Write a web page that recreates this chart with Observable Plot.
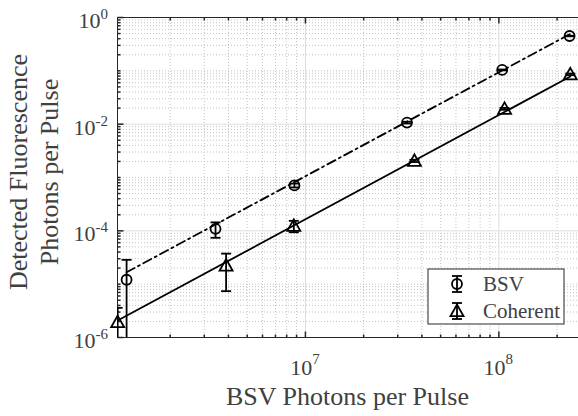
<!DOCTYPE html>
<html><head><meta charset="utf-8">
<script src="https://cdn.jsdelivr.net/npm/d3@7"></script>
<script src="https://cdn.jsdelivr.net/npm/@observablehq/plot@0.6"></script>
<style>body{margin:0;background:#fff} #chart{position:relative;width:578px;height:416px;overflow:hidden}</style>
</head><body><div id="chart"></div>
<script>
// ---- data ----
const seriesNames = ["BSV", "Coherent"];
const bsvX   = [1.19e6, 3.43e6, 8.77e6, 3.35e7, 1.04e8, 2.32e8];
const bsvY   = [1.21e-5, 1.09e-4, 7.1e-4, 1.07e-2, 0.104, 0.45];
const bsvErr = [1.65e-5, 0.35e-4, 0.6e-4, 0.4e-3, 0.002, 0.006];
const cohX   = [1.07e6, 3.89e6, 8.71e6, 3.66e7, 1.07e8, 2.34e8];
const cohY   = [1.94e-6, 2.24e-5, 1.24e-4, 2.05e-3, 1.94e-2, 0.086];
const cohErr = [1.66e-6, 1.5e-5, 0.3e-4, 0.1e-3, 0.0008, 0.003];
// fitted power-law lines (end points)
const bsvFitX = [1.19e6, 2.32e8];
const bsvFitY = [1.67e-5, 0.485];
const cohFitX = [1.07e6, 2.34e8];
const cohFitY = [2.08e-6, 0.0782];
// axes
const xDomain = [1.068e6, 2.58e8];
const yDomain = [1e-6, 1];
const xTicks = [1e7, 1e8];
const xTickExp = ["7", "8"];
const yTicks = [1, 1e-2, 1e-4, 1e-6];
const yTickExp = ["0", "-2", "-4", "-6"];
const xLabel = "BSV Photons per Pulse";
const yLabel = ["Detected Fluorescence", "Photons per Pulse"];

// minor tick positions
const xMinor = [];
for (let k = 6; k <= 8; k++) for (let m = 2; m <= 9; m++) {
  const v = m * Math.pow(10, k);
  if (v > xDomain[0] && v < xDomain[1]) xMinor.push(v);
}
const yMinor = [];
for (let k = -6; k < 0; k++) for (let m = 1; m <= 9; m++) {
  if (m === 1 && k % 2 === 0) continue;
  yMinor.push(m * Math.pow(10, k));
}

const bsv = bsvX.map((x, i) => ({x, y: bsvY[i], lo: Math.max(bsvY[i] - bsvErr[i], 1e-9), hi: bsvY[i] + bsvErr[i]}));
const coh = cohX.map((x, i) => ({x, y: cohY[i], lo: Math.max(cohY[i] - cohErr[i], 1e-9), hi: cohY[i] + cohErr[i]}));
const bsvFit = bsvFitX.map((x, i) => ({x, y: bsvFitY[i]}));
const cohFit = cohFitX.map((x, i) => ({x, y: cohFitY[i]}));

// custom symbols
const rad = s => Math.sqrt(s / Math.PI);
const capSym = {draw(c, s) { const r = rad(s); c.moveTo(-r, 0); c.lineTo(r, 0); }};
const triSym = {draw(c, s) { const r = rad(s); c.moveTo(0, -r); c.lineTo(r, r * 0.78); c.lineTo(-r, r * 0.78); c.closePath(); }};
const tickUp = {draw(c, s) { const r = rad(s); c.moveTo(0, 0); c.lineTo(0, -r); }};
const tickDown = {draw(c, s) { const r = rad(s); c.moveTo(0, 0); c.lineTo(0, r); }};
const tickRight = {draw(c, s) { const r = rad(s); c.moveTo(0, 0); c.lineTo(r, 0); }};

const AX = "#262626";
const LW = 1.8;

const plot = Plot.plot({
  width: 578, height: 416,
  marginLeft: 117, marginRight: 0, marginTop: 17, marginBottom: 79,
  x: {type: "log", domain: xDomain, axis: null},
  y: {type: "log", domain: yDomain, axis: null},
  marks: [
    // grid
    Plot.ruleX(xMinor, {stroke: "#c4c4c4", strokeDasharray: "1,2", strokeWidth: 1}),
    Plot.ruleY(yMinor, {stroke: "#c4c4c4", strokeDasharray: "1,2", strokeWidth: 1}),
    Plot.ruleX(xTicks, {stroke: "#dedede", strokeWidth: 1}),
    Plot.ruleY(yTicks, {stroke: "#dedede", strokeWidth: 1}),
    // frame
    Plot.ruleY([yDomain[0], yDomain[1]], {stroke: AX, strokeWidth: 1}),
    Plot.ruleX([xDomain[0]], {stroke: AX, strokeWidth: 1}),
    // inward ticks
    Plot.dot(xTicks, {x: d => d, y: () => yDomain[0], symbol: tickUp, r: 6, stroke: AX, fill: "none"}),
    Plot.dot(xMinor, {x: d => d, y: () => yDomain[0], symbol: tickUp, r: 3, stroke: AX, fill: "none"}),
    Plot.dot(xTicks, {x: d => d, y: () => yDomain[1], symbol: tickDown, r: 6, stroke: AX, fill: "none"}),
    Plot.dot(xMinor, {x: d => d, y: () => yDomain[1], symbol: tickDown, r: 3, stroke: AX, fill: "none"}),
    Plot.dot(yTicks, {y: d => d, x: () => xDomain[0], symbol: tickRight, r: 6, stroke: AX, fill: "none"}),
    Plot.dot(yMinor, {y: d => d, x: () => xDomain[0], symbol: tickRight, r: 3, stroke: AX, fill: "none"}),
    // fit lines
    Plot.line(bsvFit, {x: "x", y: "y", stroke: "#000", strokeWidth: LW, strokeDasharray: "9,4,2,4", clip: true}),
    Plot.line(cohFit, {x: "x", y: "y", stroke: "#000", strokeWidth: LW, clip: true}),
    // error bars
    Plot.ruleX(bsv, {x: "x", y1: "lo", y2: "hi", stroke: "#000", strokeWidth: LW, clip: true}),
    Plot.ruleX(coh, {x: "x", y1: "lo", y2: "hi", stroke: "#000", strokeWidth: LW, clip: true}),
    Plot.dot(bsv, {x: "x", y: "hi", symbol: capSym, r: 5, stroke: "#000", strokeWidth: LW, fill: "none", clip: true}),
    Plot.dot(bsv, {x: "x", y: "lo", symbol: capSym, r: 5, stroke: "#000", strokeWidth: LW, fill: "none", clip: true}),
    Plot.dot(coh, {x: "x", y: "hi", symbol: capSym, r: 5, stroke: "#000", strokeWidth: LW, fill: "none", clip: true}),
    Plot.dot(coh, {x: "x", y: "lo", symbol: capSym, r: 5, stroke: "#000", strokeWidth: LW, fill: "none", clip: true}),
    // markers
    Plot.dot(bsv, {x: "x", y: "y", r: 5, stroke: "#000", strokeWidth: LW, fill: "none"}),
    Plot.dot(coh, {x: "x", y: "y", symbol: triSym, r: 6.5, stroke: "#000", strokeWidth: LW, fill: "none"})
  ]
});

const sx = plot.scale("x"), sy = plot.scale("y");
const svg = d3.select(plot);
const FONT = "'Liberation Serif', 'Times New Roman', serif";
const TXT = "#404040";
const g = svg.append("g").attr("font-family", FONT).attr("fill", TXT);

// x tick labels
xTicks.forEach((v, i) => {
  const t = g.append("text").attr("x", sx.apply(v)).attr("y", 375).attr("text-anchor", "middle").attr("font-size", 22);
  t.append("tspan").text("10");
  t.append("tspan").attr("font-size", 15).attr("dy", -11).text(xTickExp[i]);
});
// y tick labels
yTicks.forEach((v, i) => {
  const t = g.append("text").attr("x", 108).attr("y", sy.apply(v) + 11).attr("text-anchor", "end").attr("font-size", 22);
  t.append("tspan").text("10");
  t.append("tspan").attr("font-size", 15).attr("dy", -9).text(yTickExp[i]);
});
// axis labels
g.append("text").attr("x", 347.5).attr("y", 405).attr("text-anchor", "middle").attr("font-size", 26).text(xLabel);
yLabel.forEach((s, i) => {
  g.append("text").attr("transform", `translate(${27 + 31 * i},172) rotate(-90)`)
    .attr("text-anchor", "middle").attr("font-size", 26).text(s);
});

// legend
const lg = svg.append("g").attr("font-family", FONT);
lg.append("rect").attr("x", 428).attr("y", 269).attr("width", 136).attr("height", 55)
  .attr("fill", "#fff").attr("stroke", AX).attr("stroke-width", 1);
seriesNames.forEach((name, i) => {
  const cy = 284 + 27 * i, cx = 457;
  const ig = lg.append("g").attr("stroke", "#000").attr("stroke-width", LW).attr("fill", "none");
  ig.append("line").attr("x1", cx).attr("x2", cx).attr("y1", cy - 8).attr("y2", cy + 8);
  ig.append("line").attr("x1", cx - 5).attr("x2", cx + 5).attr("y1", cy - 8).attr("y2", cy - 8);
  ig.append("line").attr("x1", cx - 5).attr("x2", cx + 5).attr("y1", cy + 8).attr("y2", cy + 8);
  if (i === 0) ig.append("circle").attr("cx", cx).attr("cy", cy).attr("r", 5);
  else {
    const p = d3.path(); triSym.draw(p, 6.5 * 6.5 * Math.PI);
    ig.append("path").attr("d", p.toString()).attr("transform", `translate(${cx},${cy})`);
  }
  lg.append("text").attr("x", 483).attr("y", cy + 7).attr("text-anchor", "start")
    .attr("font-size", 21).attr("fill", TXT).text(name);
});

document.getElementById("chart").appendChild(plot);
</script>
</body></html>
